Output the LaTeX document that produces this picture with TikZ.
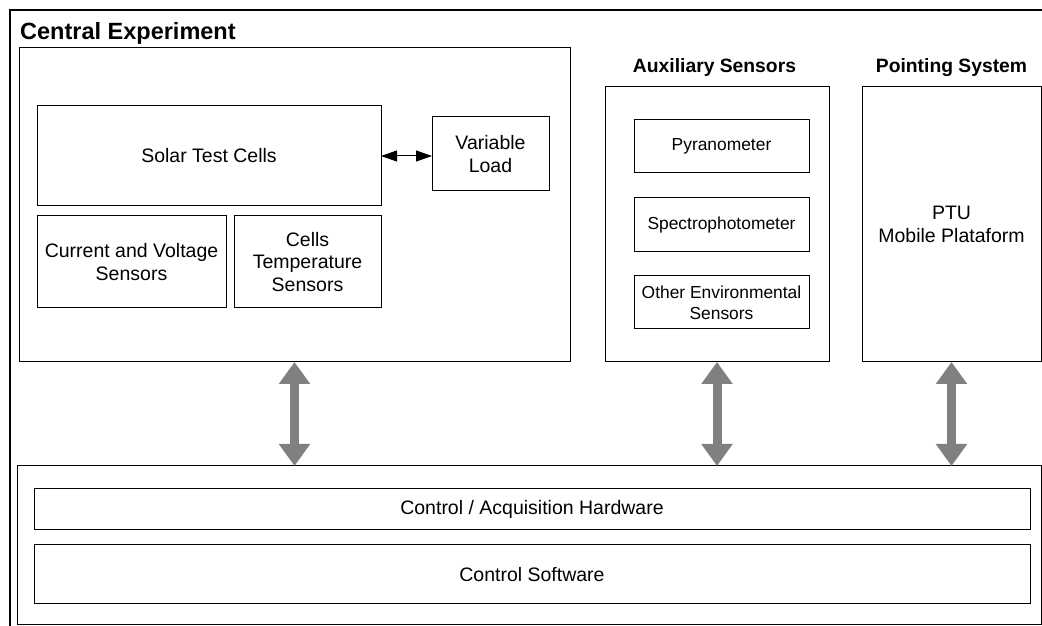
\documentclass[tikz,border=0pt]{standalone}
\usepackage{fontspec}
\setmainfont{Liberation Sans}
\usepackage{tikz}
\usetikzlibrary{arrows.meta,positioning,calc}
\newcommand\txtfont{\fontsize{19.5}{22.5}\selectfont}
\newcommand\smallfont{\fontsize{17.4}{20.8}\selectfont}

\begin{document}
\begin{tikzpicture}[
  box/.style  ={draw,line width=1pt,outer sep=0pt,inner sep=2pt,
                align=center,font=\txtfont},
  sbox/.style ={box,font=\smallfont},
  ttl/.style  ={font=\bfseries\fontsize{19.3}{23}\selectfont,inner sep=0pt},
  bigttl/.style={font=\bfseries\fontsize{23.5}{27}\selectfont,inner sep=0pt},
  bigarr/.style={draw=gray,line width=9pt,
                 {Triangle[width=30pt,length=22pt]}-{Triangle[width=30pt,length=22pt]}},
  smarr/.style ={draw=black,line width=1pt,
                 {Triangle[width=11pt,length=16pt]}-{Triangle[width=11pt,length=16pt]}},
  x=1pt, y=1pt
]
\useasboundingbox (0,0) rectangle (1042,626);

%% outer frame (only top and left visible)
\draw[line width=2.3pt] (10,0) |- (1042,616);

%% ===== Central Experiment =====
\node[box,minimum width=551pt,minimum height=314pt] (cexp) at (294.5,421) {};
\node[bigttl,anchor=base west] (cexpttl) at (20,586) {Central Experiment};

\node[box,minimum width=344pt,minimum height=100pt] (cells) at (209,470) {Solar Test Cells};
\node[box,minimum width=117pt,minimum height=74pt]  (load)  at (490.5,472) {Variable\\Load};
\node[box,minimum width=189pt,minimum height=92pt]  (cvs)   at (131.5,364) {Current and Voltage\\Sensors};
\node[box,minimum width=147pt,minimum height=92pt]  (cts)   at (307.5,364) {Cells\\Temperature\\Sensors};

\draw[smarr] (cells.east) -- (cells.east -| load.west);

%% ===== Auxiliary Sensors =====
\node[box,minimum width=224pt,minimum height=275pt] (aux) at (717,401.5) {};
\node[ttl,anchor=base] (auxttl) at (714.5,553) {Auxiliary Sensors};

\node[sbox,minimum width=175pt,minimum height=53pt] (pyr)  at (721.5,479.5) {Pyranometer};
\node[sbox,minimum width=175pt,minimum height=54pt] (spec) at (721.5,401)   {Spectrophotometer};
\node[sbox,minimum width=175pt,minimum height=53pt] (oes)  at (721.5,323.5) {Other Environmental\\Sensors};

%% ===== Pointing System =====
\node[box,minimum width=179pt,minimum height=275pt] (pts) at (951.5,401.5) {PTU\\Mobile Plataform};
\node[ttl,anchor=base] (ptsttl) at (951.5,553) {Pointing System};

%% ===== Control =====
\node[box,minimum width=1024pt,minimum height=159pt] (ctrl) at (529,80.5) {};
\node[box,minimum width=996pt,minimum height=41pt]   (hw)   at (532,116.5) {Control / Acquisition Hardware};
\node[box,minimum width=996pt,minimum height=59pt]   (sw)   at (532,51.5)  {Control Software};

%% links to control
\draw[bigarr] (cexp.south) -- (cexp.south |- ctrl.north);
\draw[bigarr] (aux.south)  -- (aux.south |- ctrl.north);
\draw[bigarr] (pts.south)  -- (pts.south |- ctrl.north);

\end{tikzpicture}
\end{document}
